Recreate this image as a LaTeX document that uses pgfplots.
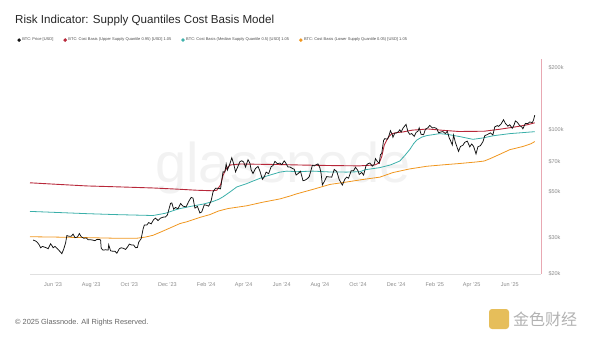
\documentclass[border=0pt]{standalone}
\usepackage{fontspec}
\setmainfont{Liberation Sans}
\newfontfamily\cjk{Noto Sans CJK SC}
\usepackage{pgfplots}
\pgfplotsset{compat=1.18}
\definecolor{priceC}{HTML}{111111}
\definecolor{upperC}{HTML}{B8283A}
\definecolor{midC}{HTML}{3AAFA9}
\definecolor{lowC}{HTML}{F0961E}
\definecolor{edgeC}{HTML}{E8A8B2}
\definecolor{labC}{HTML}{8A8A8A}
\definecolor{logoC}{HTML}{E6BE5A}

\pgfplotstableread{
d p
-32 29.2
-28 28.9
-25 28.4
-22 27.6
-20 26.8
-17 27.2
-14 27.0
-11 26.8
-8 26.5
-4 28.0
-1 27.2
0 26.8
3 27.2
7 26.5
10 25.9
14 25.1
17 26.4
20 28.3
22 30.7
25 30.5
29 30.5
32 31.2
35 30.0
39 30.2
42 31.4
45 30.3
49 29.8
53 29.9
56 29.3
60 29.3
63 29.2
67 29.0
70 29.4
74 29.4
76 29.2
77 26.6
80 26.1
84 26.2
88 26.1
89 27.7
92 25.9
95 25.8
99 25.8
102 25.2
106 26.5
109 26.8
113 26.6
116 26.3
119 27.0
122 27.9
126 27.6
129 27.6
132 26.8
135 26.9
137 28.5
141 29.7
144 33.0
146 34.5
150 34.5
153 35.5
157 35.0
161 36.7
164 37.3
168 36.3
172 37.3
176 37.7
180 37.8
183 38.7
186 41.8
188 44.0
190 44.2
193 41.2
196 42.0
200 41.4
204 43.9
208 42.6
213 42.3
217 44.9
221 47.0
224 46.6
227 41.7
231 42.5
235 39.5
238 40.0
242 43.3
246 43.0
249 42.6
253 45.3
256 50.0
260 52.1
264 52.0
268 51.7
272 62.5
275 62.4
277 68.3
279 63.8
283 68.4
286 73.1
289 68.4
292 62.5
295 65.5
299 70.0
302 70.7
305 69.7
308 65.9
312 71.6
315 68.8
317 63.9
320 61.3
324 64.9
328 66.4
331 63.1
335 57.5
338 59.1
341 62.3
345 61.2
349 66.2
352 67.0
355 70.2
359 68.5
363 68.9
366 67.7
370 70.6
372 69.3
376 66.0
379 66.0
383 64.9
386 64.3
389 60.3
393 61.6
396 62.9
400 56.6
403 56.9
407 57.9
410 59.2
413 63.9
415 67.2
418 66.8
421 67.6
424 68.3
427 65.4
429 61.4
431 54.0
434 56.0
438 59.3
442 59.0
446 58.9
450 64.2
454 62.8
458 57.3
463 53.9
467 57.6
470 58.9
473 58.2
477 63.2
481 63.3
484 65.8
488 63.3
490 60.7
494 62.1
497 60.3
501 67.1
504 68.4
507 69.0
511 66.6
514 67.9
516 72.4
519 70.2
522 68.8
524 75.8
526 76.6
529 88.7
531 90.5
535 89.9
537 92.3
540 98.9
543 94.5
544 91.9
547 96.4
550 96.5
553 98.0
555 99.9
557 97.4
560 101.5
563 104.4
565 106.1
568 97.7
571 94.9
574 95.8
578 92.8
581 96.9
584 98.3
586 102.1
589 95.0
593 94.5
596 100.5
600 102.2
603 104.9
607 102.0
610 102.4
614 101.4
617 96.6
621 97.5
624 97.9
628 95.8
631 98.3
634 91.4
636 88.7
639 84.4
641 94.2
644 86.7
649 78.5
652 82.9
656 84.1
659 86.9
663 88.0
667 82.6
670 85.2
673 83.2
677 76.3
680 82.6
684 83.7
688 87.4
691 93.5
695 94.7
700 96.5
704 94.3
707 103.2
711 104.7
713 103.7
717 106.5
721 111.7
724 107.3
728 104.0
731 105.7
735 101.5
738 105.7
740 110.3
743 108.6
747 104.6
750 103.3
752 101.0
756 107.3
760 107.1
763 109.0
767 108.2
769 111.3
771 117.5
}\pricetab

\pgfplotstableread{
d v
-37 55.3
0 54.5
54 53.4
100 52.9
160 52.2
200 51.5
230 50.9
255 50.6
262 50.9
268 54.0
272 60.0
276 64.0
280 66.0
284 67.5
300 68.2
330 68.0
360 67.8
400 67.4
450 67.0
490 66.8
515 67.5
522 69.0
526 74.0
530 84.0
534 89.0
538 93.0
542 95.5
550 96.8
560 97.5
575 99.5
600 100.8
624 99.3
650 98.0
690 98.3
715 100.5
742 103.4
760 105.8
771 108.0
}\uppertab

\pgfplotstableread{
d v
-37 40.2
0 39.8
54 39.2
100 38.8
160 38.4
180 39.4
200 41.3
220 42.5
240 43.6
255 44.8
265 46.0
272 47.3
283 49.9
294 52.8
310 54.8
320 56.4
336 58.9
352 60.9
363 62.3
374 63.0
390 62.6
416 63.0
443 62.4
470 62.3
491 62.6
500 64.0
523 65.5
540 67.5
555 70.5
563 75.0
571 80.2
577 85.5
582 89.0
590 92.0
598 93.6
619 95.7
632 94.8
651 92.6
672 89.8
688 91.2
704 93.4
731 95.7
771 97.8
}\midtab

\pgfplotstableread{
d v
-37 30.3
0 30.2
54 30.0
100 29.8
134 29.8
148 30.2
160 30.8
175 32.2
187 33.4
203 35.1
214 35.8
235 37.6
251 38.8
265 40.4
280 41.5
310 42.8
335 44.5
363 46.2
380 47.8
390 48.9
416 51.4
443 54.3
470 55.8
496 57.4
523 58.9
544 62.0
570 64.5
598 66.5
625 67.6
651 68.6
678 69.8
690 70.5
700 72.5
715 76.0
731 80.0
752 82.9
765 85.5
771 87.6
}\lowertab

\begin{document}
\begin{tikzpicture}
\useasboundingbox (0pt,0pt) rectangle (600pt,338pt);
% title
\node[anchor=base west, inner sep=0pt, font=\fontsize{11.6}{13}\selectfont, text=black!85] at (15pt,314pt) {Risk Indicator: Supply Quantiles Cost Basis Model};
% watermark
\node[font=\fontsize{56}{60}\selectfont, text=black!5] at (283pt,170pt) {glassnode};
% footer
\node[anchor=base west, inner sep=0pt, font=\fontsize{7.4}{8}\selectfont, text=black!60] at (15pt,14pt) {© 2025 Glassnode. All Rights Reserved.};
% source logo
\fill[logoC, rounded corners=3pt] (489pt,9pt) rectangle (509pt,29pt);
\node[anchor=west, inner sep=0pt, font=\cjk\fontsize{16}{18}\selectfont, text=black!30] at (513pt,19pt) {金色财经};

\begin{axis}[
  at={(30pt,64pt)}, anchor=south west,
  width=511pt, height=215pt, scale only axis,
  ymode=log, log basis y=10,
  xmin=-37, xmax=781, ymin=20, ymax=220,
  axis x line*=bottom, axis y line*=right,
  x axis line style={-, draw=black!12, line width=0.8pt},
  y axis line style={-, draw=edgeC, line width=0.8pt},
  major tick length=0pt, minor tick num=0,
  xtick={0,61,122,183,245,305,366,427,488,549,611,670,731},
  xticklabels={Jun '23,Aug '23,Oct '23,Dec '23,Feb '24,Apr '24,Jun '24,Aug '24,Oct '24,Dec '24,Feb '25,Apr '25,Jun '25},
  ytick={20,30,50,70,100,200},
  yticklabels={\$20k,\$30k,\$50k,\$70k,\$100k,\$200k},
  yminorticks=false,
  tick label style={font=\fontsize{5.5}{6}\selectfont, text=labC},
  /pgf/number format/assume math mode=true,
  xticklabel shift=5pt,
  yticklabel shift=4pt,
  yticklabel style={anchor=west},
  reverse legend,
  legend columns=4,
  legend style={at={(axis description cs:-0.025,1.088)}, anchor=west, draw=none, fill=none,
    font=\fontsize{4}{5}\selectfont, text=black!70, inner sep=0pt,
    nodes={inner sep=1pt},
    /tikz/every odd column/.append style={column sep=0.5pt},
    /tikz/every even column/.append style={column sep=9pt}},
  legend cell align=left,
  legend image code/.code={\fill[#1] (0pt,0pt) circle (1.3pt);},
]
\addplot[lowC, line width=0.8pt] table[x=d,y=v] {\lowertab};
\addlegendentry{BTC: Cost Basis (Lower Supply Quantile 0.05) [USD] 1.05}
\addplot[midC, line width=0.8pt] table[x=d,y=v] {\midtab};
\addlegendentry{BTC: Cost Basis (Median Supply Quantile 0.5) [USD] 1.05}
\addplot[upperC, line width=0.9pt] table[x=d,y=v] {\uppertab};
\addlegendentry{BTC: Cost Basis (Upper Supply Quantile 0.95) [USD] 1.05}
\addplot[priceC, line width=0.75pt] table[x=d,y=p] {\pricetab};
\addlegendentry{BTC: Price [USD]}
\end{axis}
\end{tikzpicture}
\end{document}
